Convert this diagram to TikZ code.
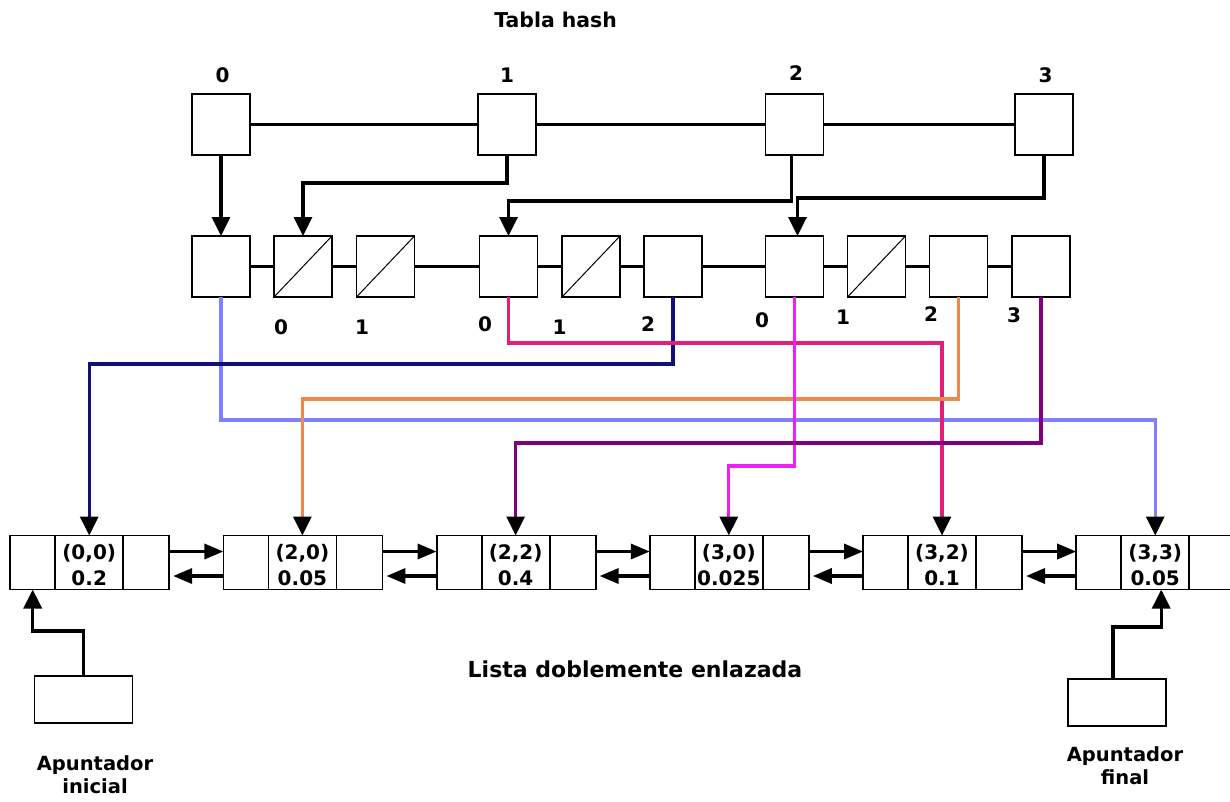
\documentclass[tikz,border=0pt]{standalone}
\usepackage{fontspec}
\setmainfont{DejaVu Sans}
\usetikzlibrary{arrows.meta}
\definecolor{cblue}{RGB}{128,128,255}
\definecolor{cnavy}{RGB}{16,16,120}
\definecolor{corange}{RGB}{240,136,72}
\definecolor{cmag}{RGB}{240,32,240}
\definecolor{cpink}{RGB}{225,30,120}
\definecolor{cpurp}{RGB}{128,0,128}
\begin{document}
\begin{tikzpicture}[x=1pt,y=-1pt,
  box/.style={draw=black,line width=1.8pt,minimum width=58pt,minimum height=61pt,inner sep=0pt,outer sep=0pt},
  cell/.style={draw=black,line width=1.8pt,minimum height=54pt,inner sep=0pt,outer sep=0pt},
  cellmid/.style={cell,minimum width=68pt,align=center,font=\bfseries\fontsize{20}{26}\selectfont},
  ptrbox/.style={draw=black,line width=1.8pt,minimum width=98pt,minimum height=47pt,inner sep=0pt,outer sep=0pt},
  lbl/.style={font=\bfseries\fontsize{20}{24}\selectfont,inner sep=0pt,anchor=base},
  blk/.style={line width=3.4pt},
  arr/.style={-{Triangle[width=18pt,length=19pt]}},
  carr/.style={line width=3.2pt,-{Triangle[width=18pt,length=19pt,color=black]}},
  harr/.style={line width=3.4pt,-{Triangle[width=15pt,length=19pt]}},
  slash/.style={line width=1pt},
]
\useasboundingbox (0,0) rectangle (1230,801);

% title
\node[lbl,font=\bfseries\fontsize{20.4}{24}\selectfont] (title) at (555.6,27) {Tabla hash};

% hash table boxes
\node[box] (h0) at (221,124.5) {};
\node[box] (h1) at (507,124.5) {};
\node[box] (h2) at (794.5,124.5) {};
\node[box] (h3) at (1044,124.5) {};
\node[lbl] (t0) at (222.7,82) {0};
\node[lbl] (t1) at (507,82) {1};
\node[lbl] (t2) at (796,80) {2};
\node[lbl] (t3) at (1045.5,82) {3};
\draw[blk] (h0.east) -- (h1.west);
\draw[blk] (h1.east) -- (h2.west);
\draw[blk] (h2.east) -- (h3.west);

% second row
\foreach \n/\x in {0/221,1/303,2/385.5,3/508.5,4/591,5/673,6/794.5,7/876.5,8/958.5,9/1041}
  \node[box] (m\n) at (\x,266.5) {};
\foreach \a/\b in {0/1,1/2,2/3,3/4,4/5,5/6,6/7,7/8,8/9}
  \draw[blk] (m\a.east) -- (m\b.west);
\foreach \n in {1,2,4,7}
  \draw[slash] (m\n.south west) -- (m\n.north east);
\node[lbl] (d1) at (281,334) {0};
\node[lbl] (d2) at (362,334) {1};
\node[lbl] (d3) at (485,331) {0};
\node[lbl] (d4) at (559.5,334) {1};
\node[lbl] (d5) at (648,331) {2};
\node[lbl] (d6) at (762,327) {0};
\node[lbl] (d7) at (843,324) {1};
\node[lbl] (d8) at (931,321) {2};
\node[lbl] (d9) at (1014,322) {3};

% hash -> buckets
\draw[blk,arr] (h0.south) -- (m0.north);
\draw[blk,arr] (h1.south) -- ++(0,28) -| (m1.north);
\draw[blk,arr] ([xshift=-3pt]h2.south) -- ++(0,46) -| (m3.north);
\draw[blk,arr] (h3.south) -- ++(0,43) -| ([xshift=3pt]m6.north);

% doubly linked list
\foreach \i/\a/\b in {0/{(0,0)}/{0.2},1/{(2,0)}/{0.05},2/{(2,2)}/{0.4},3/{(3,0)}/{0.025},4/{(3,2)}/{0.1},5/{(3,3)}/{0.05}}{
  \pgfmathsetmacro\l{10.2+213.2*\i}
  \node[cell,minimum width=45pt] (L\i) at ({\l+22.5},562.5) {};
  \node[cellmid] (C\i) at ({\l+79},562.5) {\rule{0pt}{21pt}\a\\\b};
  \node[cell,minimum width=46pt] (R\i) at ({\l+136},562.5) {};
}
\foreach \a/\b in {0/1,1/2,2/3,3/4,4/5}{
  \draw[harr] ([yshift=11pt]R\a.east) -- ([yshift=11pt]L\b.west);
  \draw[harr,shorten >=4pt] ([yshift=-13.5pt]L\b.west) -- ([yshift=-13.5pt]R\a.east);
}

% coloured pointers
\draw[cblue,carr] (m0.south) -- ++(0,123) -| (C5.north);
\draw[cnavy,carr] (m5.south) -- ++(0,67) -| (C0.north);
\draw[cpink,carr] (m3.south) -- ++(0,46) -| (C4.north);
\draw[corange,carr] (m8.south) -- ++(0,102) -| (C1.north);
\draw[cmag,carr] (m6.south) -- ++(0,169) -| (C3.north);
\draw[cpurp,carr] (m9.south) -- ++(0,146) -| (C2.north);

% list label
\node[lbl,font=\bfseries\fontsize{22}{26}\selectfont] (lista) at (635,677) {Lista doblemente enlazada};

% head / tail pointers
\node[ptrbox] (pi) at (83.5,699.5) {};
\node[ptrbox] (pf) at (1117,702.5) {};
\draw[blk,arr] (pi.north) -- ++(0,-45) -| (L0.south);
\draw[blk,arr] ([xshift=-4pt]pf.north) -- ++(0,-52) -| ([xshift=6pt]C5.south);
\node[font=\bfseries\fontsize{19.5}{23}\selectfont,align=center,inner sep=0pt] (pil) at (95,774.6) {Apuntador\\inicial};
\node[font=\bfseries\fontsize{19.5}{23}\selectfont,align=center,inner sep=0pt] (pfl) at (1125,765.6) {Apuntador\\final};
\end{tikzpicture}
\end{document}
